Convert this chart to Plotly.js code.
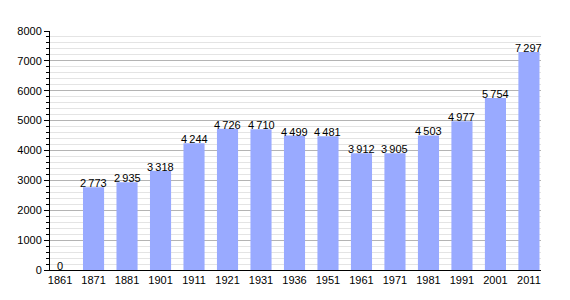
<!DOCTYPE html>
<html><head><meta charset="utf-8">
<script src="https://cdn.plot.ly/plotly-3.0.1.min.js"></script>
<style>html,body{margin:0;padding:0;background:#fff}</style>
</head><body>
<div id="chart" style="width:570px;height:300px"></div>
<script>
const years = ['1861','1871','1881','1901','1911','1921','1931','1936','1951','1961','1971','1981','1991','2001','2011'];
const population = [0,2773,2935,3318,4244,4726,4710,4499,4481,3912,3905,4503,4977,5754,7297];

function fmt(v){ return String(v).replace(/\B(?=(\d{3})+(?!\d))/g, '\u2009'); }

const trace = {
  type: 'bar',
  x: years,
  y: population,
  marker: {color: '#99aaff', line: {width: 0}},
  width: 0.63,
  hoverinfo: 'skip'
};

const labels = years.map((yr, i) => ({
  x: i, y: population[i], xref: 'x', yref: 'y',
  text: fmt(population[i]), showarrow: false,
  yanchor: 'bottom', xanchor: 'center', yshift: -4,
  font: {family: 'Liberation Sans, Arial, sans-serif', size: 11, color: '#000'}
}));

const layout = {
  width: 570, height: 300,
  margin: {l: 50, r: 29, t: 31, b: 30},
  paper_bgcolor: '#fff', plot_bgcolor: '#fff',
  showlegend: false,
  font: {family: 'Liberation Sans, Arial, sans-serif', size: 11, color: '#000'},
  annotations: labels,
  xaxis: {
    type: 'category',
    range: [-0.3, 14.36],
    showline: true, linecolor: '#000', linewidth: 1,
    ticks: '', showgrid: false,
    tickfont: {size: 11}
  },
  yaxis: {
    range: [0, 8000], dtick: 1000,
    showline: true, linecolor: '#000', linewidth: 1,
    ticks: 'outside', ticklen: 5, tickcolor: '#000',
    gridcolor: '#b4b4b4', gridwidth: 1,
    zeroline: false,
    tickfont: {size: 11},
    minor: {dtick: 200, showgrid: true, gridcolor: '#e4e4e4', ticks: 'outside', ticklen: 3, tickcolor: '#000'}
  }
};

Plotly.newPlot('chart', [trace], layout, {staticPlot: true, displayModeBar: false});
</script>
</body></html>
